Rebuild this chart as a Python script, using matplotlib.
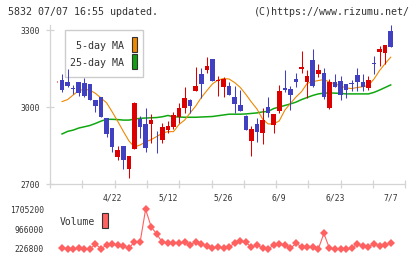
import numpy as np
import matplotlib
matplotlib.use("Agg")
import matplotlib.pyplot as plt
from matplotlib.patches import Rectangle

plt.rcParams['font.family'] = ['DejaVu Sans Mono']

# daily prices (oldest -> newest)
opens = [3100, 3105, 3097, 3074, 3097, 3092, 3090, 3027, 3039, 2956,
         2917, 2806, 2848, 2758, 2837, 2952, 2934, 2934, 2872, 2871,
         2910, 2923, 2960, 2996, 3027, 3063, 3128, 3144, 3186, 3102,
         3079, 3082, 3040, 3008, 2965, 2869, 2934, 2898, 2999, 2931,
         2986, 3073, 3070, 3109, 3148, 3099, 3183, 3127, 3131, 2997,
         3099, 3101, 3088, 3092, 3125, 3097, 3075, 3170, 3214, 3212, 3296]
highs = [3102, 3128, 3148, 3085, 3098, 3114, 3090, 3027, 3040, 2956,
         2917, 2848, 2848, 2809, 3020, 2963, 2996, 2973, 2905, 2938,
         2946, 2980, 3016, 3078, 3031, 3156, 3152, 3196, 3187, 3121,
         3116, 3097, 3083, 3066, 2970, 2926, 2956, 2995, 3039, 2973,
         3086, 3144, 3082, 3134, 3218, 3144, 3226, 3167, 3151, 3109,
         3129, 3121, 3088, 3105, 3153, 3129, 3121, 3199, 3238, 3242, 3320]
lows = [3099, 3058, 3079, 3050, 3043, 3040, 3026, 2982, 2961, 2884,
        2826, 2793, 2757, 2725, 2835, 2879, 2826, 2860, 2822, 2861,
        2899, 2915, 2938, 2977, 2977, 3063, 3035, 3134, 3101, 3044,
        3038, 3047, 2975, 2986, 2910, 2809, 2865, 2855, 2961, 2898,
        2978, 3060, 2988, 3079, 3131, 3034, 3079, 3118, 3032, 2991,
        3079, 3027, 3036, 3062, 3063, 3063, 3066, 3129, 3161, 3167, 3235]
closes = [3101, 3066, 3083, 3072, 3053, 3044, 3027, 3005, 2962, 2895,
          2843, 2832, 2793, 2809, 3017, 2923, 2841, 2949, 2870, 2921,
          2926, 2969, 2996, 3035, 3005, 3082, 3088, 3160, 3102, 3103,
          3109, 3047, 3012, 2986, 2910, 2914, 2904, 2949, 2978, 2973,
          3062, 3066, 3047, 3097, 3157, 3121, 3083, 3144, 3038, 3096,
          3079, 3048, 3066, 3088, 3099, 3078, 3105, 3166, 3226, 3242, 3235]

ma5 = [np.nan, 3021, 3029, 3047, 3064, 3069, 3066, 3053, 3035, 3016,
       2981, 2944, 2905, 2868, 2844, 2852, 2864, 2873, 2885, 2898,
       2904, 2904, 2932, 2949, 2977, 3004, 3037, 3064, 3090, 3105,
       3111, 3109, 3095, 3076, 3049, 3019, 2992, 2953, 2934, 2934,
       2946, 2988, 3014, 3039, 3060, 3092, 3099, 3103, 3107, 3097,
       3090, 3082, 3074, 3072, 3076, 3079, 3084, 3109, 3142, 3169, 3194]
ma25 = [np.nan, 2895, 2905, 2910, 2918, 2923, 2928, 2936, 2945, 2952,
        2952, 2951, 2949, 2949, 2953, 2956, 2957, 2958, 2959, 2962,
        2967, 2962, 2961, 2960, 2960, 2960, 2961, 2962, 2963, 2966,
        2969, 2972, 2972, 2972, 2973, 2975, 2977, 2981, 2983, 2994,
        3000, 3006, 3012, 3019, 3029, 3037, 3045, 3051, 3054, 3055,
        3054, 3053, 3051, 3051, 3051, 3051, 3051, 3057, 3066, 3076, 3086]

# volume in thousands
volume = [np.nan, 275, 227, 227, 253, 227, 227, 411, 238, 375,
          411, 375, 338, 253, 497, 474, 1705.2, 1051, 781, 474,
          460, 460, 437, 474, 375, 497, 404, 338, 253, 312,
          253, 312, 437, 534, 474, 290, 375, 253, 227, 375,
          411, 375, 253, 437, 312, 290, 312, 227, 807, 253,
          227, 226.8, 227, 253, 411, 338, 312, 411, 349, 375, 460]

date_pos = [10, 20, 30, 40, 50, 60]
date_labels = ["4/22", "5/12", "5/26", "6/9", "6/23", "7/7"]
price_ticks = [2700, 3000, 3300]
vol_ticks = [226800, 966000, 1705200]

RED = "#dd0000"
BLUE = "#4040c0"
ORANGE = "#ee8800"
GREEN = "#10a810"
VOLC = "#ff6060"
GRID = "#d4d4d4"
TXT = "#333333"

W, H = 420, 259
def fx(px):
    return px / W
def fy(py):
    return 1 - py / H

fig = plt.figure(figsize=(4.2, 2.59), dpi=100)

# price panel
ax = fig.add_axes([fx(50), fy(184), fx(405.3) - fx(50), fy(25) - fy(184)])
o = np.array(opens, float)
c = np.array(closes, float)
idx = np.arange(len(o))
cols = np.where(c >= o, RED, BLUE)

ax.plot(idx, ma25, color=GREEN, lw=1.1, zorder=2)
ax.plot(idx, ma5, color=ORANGE, lw=0.8, zorder=2)
ax.vlines(idx, lows, highs, colors=cols, lw=0.75, zorder=3)
ax.bar(idx, np.maximum(np.abs(c - o), 3), bottom=np.minimum(o, c), width=0.82,
       color=cols, linewidth=0, zorder=3)

# legend box (behind candles)
box = Rectangle((fx(65), fy(76.7)), fx(143.3) - fx(65), fy(30) - fy(76.7),
                transform=fig.transFigure, facecolor="white", edgecolor="#cccccc",
                lw=1.0, zorder=1, clip_on=False)
ax.add_artist(box)

ax.set_xlim(-1.167, 62.62)
ax.set_ylim(2700, 3319.5)
ax.set_yticks(price_ticks)
ax.set_yticklabels([str(v) for v in price_ticks])
ax.set_xticks(np.linspace(-1.167, 62.62, 12))
ax.set_xticklabels([])
for s in ["top", "right"]:
    ax.spines[s].set_visible(False)
for s in ["left", "bottom"]:
    ax.spines[s].set_color(GRID)
    ax.spines[s].set_linewidth(0.9)
ax.tick_params(direction="inout", length=5.8, width=0.9, color=GRID,
               labelsize=5.8, labelcolor=TXT, pad=4.5)

for p, lab in zip(date_pos, date_labels):
    ax.text(p, -0.085, lab, transform=ax.get_xaxis_transform(), ha="center",
            va="center", fontsize=5.8, color=TXT)

# volume panel
axv = fig.add_axes([fx(50), fy(249), fx(405.3) - fx(50), fy(209.3) - fy(249)])
axv.plot(idx, np.array(volume) * 1000, color=VOLC, lw=0.8, marker="D",
         markersize=3.6, markeredgewidth=0, clip_on=False)
axv.set_xlim(-1.167, 62.62)
axv.set_ylim(226800, 1705200)
axv.set_yticks(vol_ticks)
axv.set_yticklabels([str(v) for v in vol_ticks])
axv.set_xticks([])
for s in axv.spines.values():
    s.set_visible(False)
axv.patch.set_alpha(0)
axv.tick_params(length=0, labelsize=5.8, labelcolor=TXT, pad=4.3)

# header texts
fig.text(fx(8), fy(12.3), "5832 07/07 16:55 updated.", fontsize=7.2,
         color=TXT, va="center", ha="left")
fig.text(fx(409.5), fy(12.3), "(C)https://www.rizumu.net/", fontsize=7.2,
         color=TXT, va="center", ha="right")

# legend entries
fig.text(fx(124.5), fy(45.7), "5-day MA", fontsize=7.2, color=TXT,
         va="center", ha="right")
fig.text(fx(124.5), fy(63.3), "25-day MA", fontsize=7.2, color=TXT,
         va="center", ha="right")
fig.add_artist(Rectangle((fx(131.7), fy(52.3)), fx(5.7), fy(36.7) - fy(52.3),
                         transform=fig.transFigure, facecolor=ORANGE,
                         edgecolor="#333333", lw=0.8))
fig.add_artist(Rectangle((fx(131.7), fy(69.3)), fx(5.7), fy(54) - fy(69.3),
                         transform=fig.transFigure, facecolor="#10a010",
                         edgecolor="#333333", lw=0.8))
fig.text(fx(94.5), fy(222.3), "Volume", fontsize=7.0, color=TXT,
         va="center", ha="right")
fig.add_artist(Rectangle((fx(101.7), fy(228.3)), fx(6), fy(213.3) - fy(228.3),
                         transform=fig.transFigure, facecolor=VOLC,
                         edgecolor="#333333", lw=0.8))

fig.savefig("out.png", dpi=100)
